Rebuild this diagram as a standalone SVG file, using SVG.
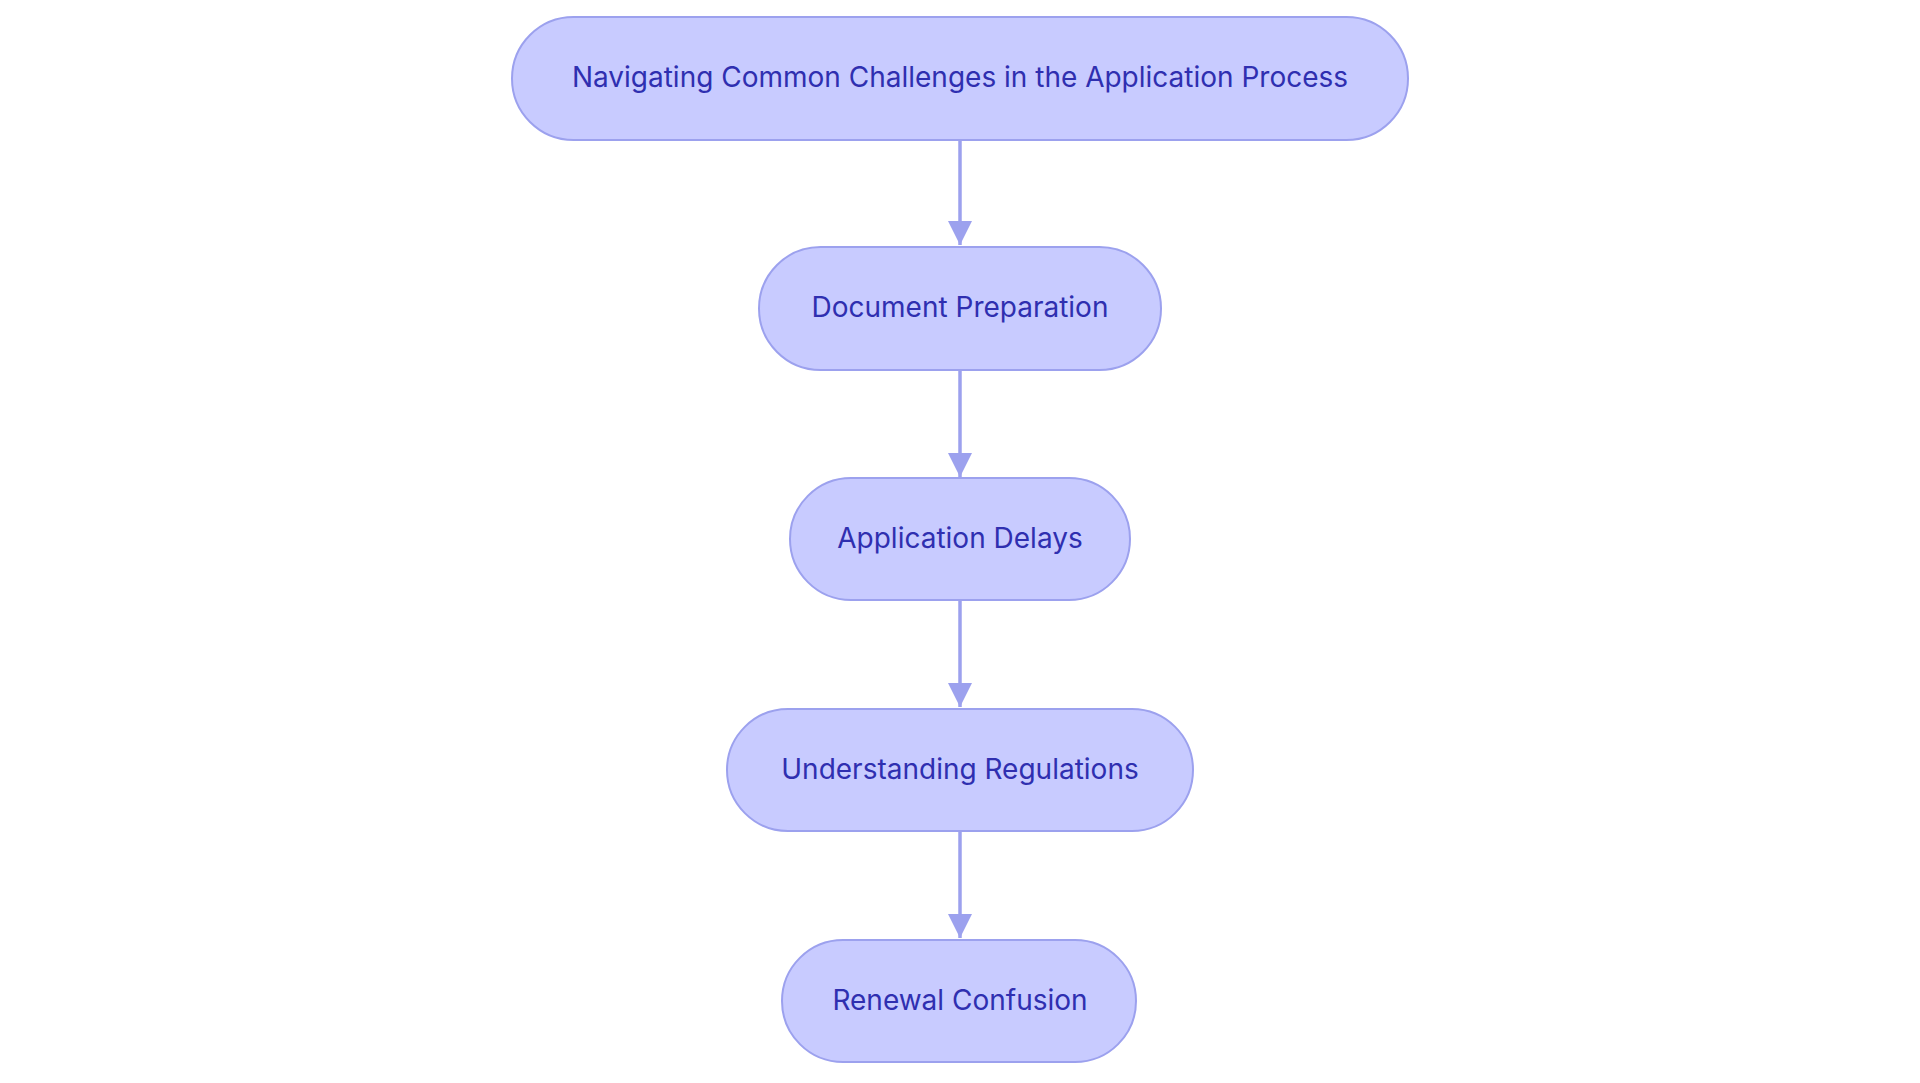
<svg xmlns="http://www.w3.org/2000/svg" width="1920" height="1083" viewBox="0 0 1920 1083">
<style>
.n{fill:#c8cbff;stroke:#9ca1ee;stroke-width:2}
.t{font-family:Inter,"Liberation Sans",sans-serif;font-size:28px;fill:#2f2fb0;text-anchor:middle;dominant-baseline:central}
.c{stroke:#9ca1ee;stroke-width:3.5;fill:none}
</style>
<defs><marker id="a" markerWidth="8" markerHeight="8" refX="7" refY="4" orient="auto" markerUnits="strokeWidth"><path d="M0,0.5L7,4L0,7.5Z" fill="#9ca1ee"/></marker></defs>
<rect width="1920" height="1083" fill="#fff"/>
<g id="connectors">
<line class="c" x1="960" y1="140" x2="960" y2="245" marker-end="url(#a)"/>
<line class="c" x1="960" y1="370" x2="960" y2="477" marker-end="url(#a)"/>
<line class="c" x1="960" y1="600" x2="960" y2="707" marker-end="url(#a)"/>
<line class="c" x1="960" y1="831" x2="960" y2="938" marker-end="url(#a)"/>
</g>
<g id="n1"><rect class="n" x="512" y="17" width="896" height="123" rx="61.5"/><text class="t" x="960" y="77">Navigating Common Challenges in the Application Process</text></g>
<g id="n2"><rect class="n" x="759" y="247" width="402" height="123" rx="61.5"/><text class="t" x="960" y="307">Document Preparation</text></g>
<g id="n3"><rect class="n" x="790" y="478" width="340" height="122" rx="61"/><text class="t" x="960" y="538">Application Delays</text></g>
<g id="n4"><rect class="n" x="727" y="709" width="466" height="122" rx="61"/><text class="t" x="960" y="769">Understanding Regulations</text></g>
<g id="n5"><rect class="n" x="782" y="940" width="354" height="122" rx="61"/><text class="t" x="960" y="1000">Renewal Confusion</text></g>
</svg>
